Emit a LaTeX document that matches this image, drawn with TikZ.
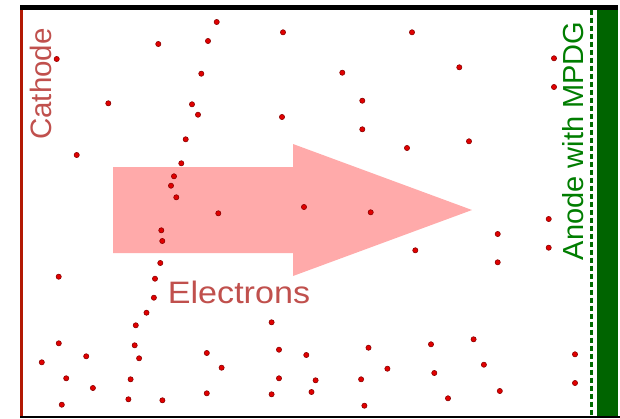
\documentclass[tikz,border=0pt]{standalone}
\usepackage{fontspec}
\setmainfont{Liberation Sans}
\definecolor{arrowpink}{RGB}{255,170,170}
\definecolor{labelred}{RGB}{192,80,77}
\definecolor{cathred}{RGB}{178,24,4}
\definecolor{anodegreen}{RGB}{0,100,0}
\definecolor{textgreen}{RGB}{0,125,0}
\definecolor{dotred}{RGB}{225,0,0}
\definecolor{dotedge}{RGB}{140,0,0}
\begin{document}
\begin{tikzpicture}[x=1pt,y=-1pt,
  lbl/.style={inner sep=0pt,anchor=base},
  electron/.style={fill=dotred,draw=dotedge,line width=0.6pt}]
\useasboundingbox (0,0) rectangle (620,418);
% big arrow
\fill[arrowpink] (113,167) -- (293,167) -- (293,144) -- (472,210) -- (293,276) -- (293,253) -- (113,253) -- cycle;
% electrodes
\fill[anodegreen] (597.3,9.5) rectangle (618.3,416);
\draw[textgreen!85!black,line width=2.8pt,dash pattern=on 5pt off 3pt] (591.3,9.5) -- (591.3,416);
\draw[cathred,line width=3pt] (21.3,9.5) -- (21.3,416);
\draw[black,line width=4.5pt] (20,7.5) -- (618,7.5);
\draw[black,line width=2.5pt] (20,416.8) -- (620,416.8);
% electrons
\foreach \p in {(216.7,22),(283,32.3),(158.3,44),(208,41),(56.7,59),(201.3,73.7),(108.3,103.3),(192,104.3),(198,114.7),(282,117),(185.7,139.3),
(412,32.3),(342.3,72.7),(459.3,67.3),(554,58.3),(554,87),(362.3,100.7),(362.3,129.3),(469,141.3),
(76.7,155),(181.3,163.3),(174,176.3),(171,185.7),(176.3,197.3),(218.3,213.3),(304,207),(161.3,230.3),(162.3,241),(160.3,263),(58.7,276.7),(155,278.7),
(407,148),(370.7,212.3),(548.7,219),(497.7,234),(548.7,247.7),(415.3,250.3),(497.7,262.3),
(153.9,297.7),(146.5,312.7),(135.8,325.3),(271.6,322.3),(58.8,343.3),(134.7,345.3),(41.8,362.3),(86.2,356.3),(139.1,358.3),(206.8,353),(279,349.7),(306.3,355),(368.5,347.7),(431,344.3),(473.6,339.3),(575,354.3),(221.6,367.7),(387.4,368.7),(434.3,373),(483.9,364.7),(66.2,378.3),(130.6,379.3),(279,378.3),(315.6,380.3),(361.1,379.3),(92.9,388),(575,383),(206.8,393.3),(128.4,399.3),(162.4,400.3),(271.6,394.3),(311.5,392),(499.8,391),(448,398.3),(61.8,404.7),(364.4,405.7)}
  \draw[electron] \p circle (2.6pt);
% labels
\node[lbl,text=labelred,rotate=90,font=\fontsize{29.5}{34}\selectfont] (cathode) at (51,84) {Cathode};
\node[lbl,text=labelred,xscale=1.1,font=\fontsize{31}{36}\selectfont] (electrons) at (239,303.3) {Electrons};
\node[lbl,text=textgreen,rotate=90,font=\fontsize{29}{34}\selectfont] (anode) at (583,140.8) {Anode with MPDG};
\end{tikzpicture}
\end{document}
